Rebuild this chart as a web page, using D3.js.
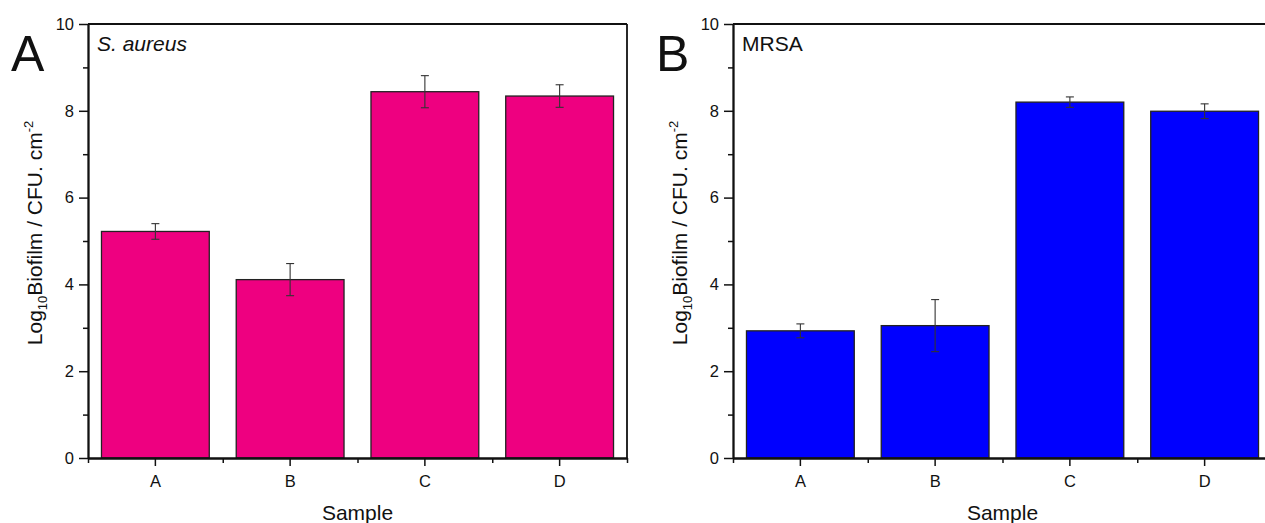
<!DOCTYPE html>
<html>
<head>
<meta charset="utf-8">
<script src="https://cdn.jsdelivr.net/npm/d3@7"></script>
<style>
  body { margin: 0; background: #fff; }
  text { font-family: "Liberation Sans", Arial, sans-serif; fill: #111; }
</style>
</head>
<body>
<svg id="canvas"></svg>
<script>
// data
let samples = ["A", "B", "C", "D"];
let saureusMeans = [5.22, 4.11, 8.44, 8.34];
let saureusErr = [0.18, 0.37, 0.37, 0.26];
let mrsaMeans = [2.93, 3.05, 8.2, 7.99];
let mrsaErr = [0.16, 0.6, 0.12, 0.17];
let yTicks = [0, 2, 4, 6, 8, 10];

let canvas = d3.select("#canvas").attr("width", 1265).attr("height", 523);

let plotTop = 24, plotBottom = 458, plotW = 539;

let drawPanel = (x0, letter, title, italic, means, errs, color) => {
  let g = canvas.append("g");

  let xScale = d3.scaleBand().domain(samples).range([x0, x0 + plotW]).paddingInner(0.2).paddingOuter(0.1);
  let xEdge = d3.scaleLinear().domain([0, samples.length]).range([x0, x0 + plotW]);
  let yScale = d3.scaleLinear().domain([0, 10]).range([plotBottom, plotTop]);

  // bars
  g.selectAll("rect.bar")
    .data(means)
    .enter()
    .append("rect")
    .attr("class", "bar")
    .attr("x", (d, i) => xScale(samples[i]))
    .attr("width", xScale.bandwidth())
    .attr("y", (d) => yScale(d))
    .attr("height", (d) => yScale(0) - yScale(d))
    .attr("fill", color)
    .attr("stroke", "#222")
    .attr("stroke-width", 1.3);

  // error bars
  let cx = (i) => xScale(samples[i]) + xScale.bandwidth() / 2;
  let eb = g.selectAll("g.err").data(means).enter().append("g").attr("class", "err")
    .attr("stroke", "#333").attr("stroke-width", 1.1);
  eb.append("line")
    .attr("x1", (d, i) => cx(i)).attr("x2", (d, i) => cx(i))
    .attr("y1", (d, i) => yScale(d + errs[i])).attr("y2", (d, i) => yScale(d - errs[i]));
  eb.append("line")
    .attr("x1", (d, i) => cx(i) - 4).attr("x2", (d, i) => cx(i) + 4)
    .attr("y1", (d, i) => yScale(d + errs[i])).attr("y2", (d, i) => yScale(d + errs[i]));
  eb.append("line")
    .attr("x1", (d, i) => cx(i) - 4).attr("x2", (d, i) => cx(i) + 4)
    .attr("y1", (d, i) => yScale(d - errs[i])).attr("y2", (d, i) => yScale(d - errs[i]));

  // y axis, major + minor
  let yMinor = yScale.ticks(10).filter((v) => yTicks.indexOf(v) < 0);
  g.append("g").attr("transform", `translate(${x0},0)`)
    .call(d3.axisLeft(yScale).tickValues(yMinor).tickSize(5).tickSizeOuter(0).tickFormat(""));
  g.append("g").attr("class", "yaxis").attr("transform", `translate(${x0},0)`)
    .call(d3.axisLeft(yScale).tickValues(yTicks).tickSize(9).tickSizeOuter(0).tickPadding(5));

  // x axis, minor at band edges + major at centers
  g.append("g").attr("transform", `translate(0,${plotBottom})`)
    .call(d3.axisBottom(xEdge).ticks(samples.length).tickSize(5).tickSizeOuter(0).tickFormat(""));
  g.append("g").attr("class", "xaxis").attr("transform", `translate(0,${plotBottom})`)
    .call(d3.axisBottom(xScale).tickSize(8).tickSizeOuter(0).tickPadding(9));

  g.selectAll(".domain").attr("stroke", "#111").attr("stroke-width", 1.8);
  g.selectAll(".tick line").attr("stroke", "#111").attr("stroke-width", 1.5);
  g.selectAll(".tick text").attr("font-size", 16.5).attr("font-family", "Liberation Sans, Arial, sans-serif").attr("fill", "#111");

  // frame top + right
  g.append("line").attr("x1", x0).attr("x2", x0 + plotW).attr("y1", plotTop).attr("y2", plotTop)
    .attr("stroke", "#111").attr("stroke-width", 1.8);
  g.append("line").attr("x1", x0 + plotW).attr("x2", x0 + plotW).attr("y1", plotTop).attr("y2", plotBottom)
    .attr("stroke", "#111").attr("stroke-width", 1.8);

  // titles
  g.append("text").attr("x", x0 + 9).attr("y", 51).attr("font-size", 21)
    .attr("font-style", italic ? "italic" : "normal").text(title);
  g.append("text").attr("x", x0 - 77).attr("y", 71).attr("font-size", 50).text(letter);

  g.append("text").attr("x", x0 + plotW / 2).attr("y", 520).attr("font-size", 21)
    .attr("text-anchor", "middle").text("Sample");

  let yl = g.append("text").attr("transform", `translate(${x0 - 46},233) rotate(-90)`)
    .attr("font-size", 21).attr("text-anchor", "middle");
  yl.append("tspan").text("Log");
  yl.append("tspan").attr("font-size", 13).attr("dy", 5).text("10");
  yl.append("tspan").attr("dy", -5).text("Biofilm / CFU. cm");
  yl.append("tspan").attr("font-size", 13).attr("dy", -9).text("-2");
};

drawPanel(88, "A", "S. aureus", true, saureusMeans, saureusErr, "#EE0080");
drawPanel(733, "B", "MRSA", false, mrsaMeans, mrsaErr, "#0000FF");
</script>
</body>
</html>
